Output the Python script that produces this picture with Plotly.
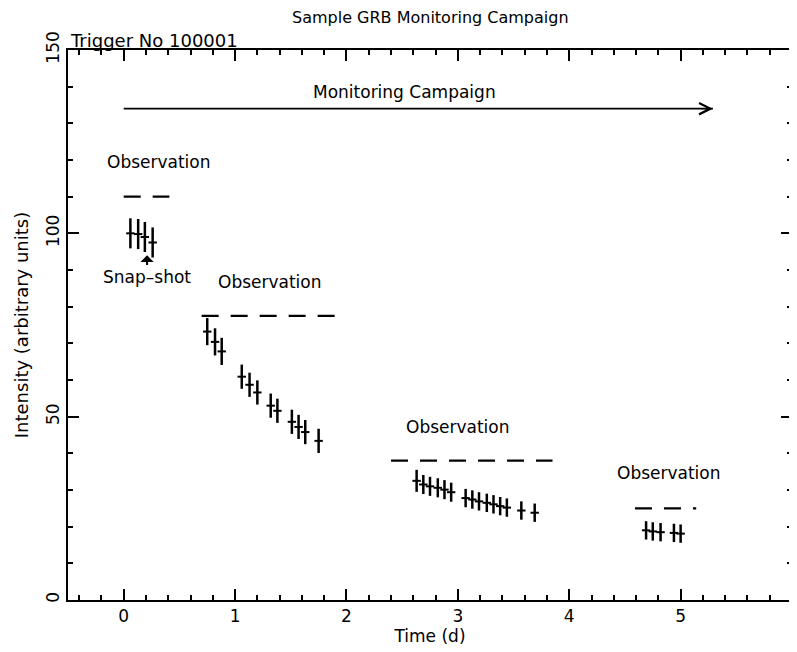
import plotly.graph_objects as go

# ---- data ----
t1 = [0.06, 0.13, 0.19, 0.26]
y1 = [100.0, 99.8, 99.0, 97.5]
e1 = [4.1, 4.1, 4.1, 4.1]

t2 = [0.75, 0.82, 0.88, 1.06, 1.13, 1.20, 1.32, 1.38, 1.51, 1.57, 1.63, 1.75]
y2 = [73.2, 70.4, 67.8, 60.9, 58.7, 56.6, 53.0, 51.6, 48.6, 47.2, 45.8, 43.4]
e2 = [3.7, 3.7, 3.7, 3.3, 3.3, 3.3, 3.3, 3.3, 3.3, 3.3, 3.3, 3.3]

t3 = [2.63, 2.69, 2.75, 2.82, 2.88, 2.94, 3.07, 3.13, 3.19, 3.26, 3.32, 3.38, 3.44, 3.57, 3.69]
y3 = [32.5, 31.5, 31.0, 30.6, 30.1, 29.4, 27.8, 27.4, 26.9, 26.5, 26.1, 25.6, 25.2, 24.4, 23.8]
e3 = [3.0, 2.6, 2.6, 2.6, 2.6, 2.6, 2.5, 2.5, 2.5, 2.5, 2.5, 2.5, 2.5, 2.5, 2.5]

t4 = [4.69, 4.75, 4.82, 4.94, 5.00]
y4 = [19.0, 18.7, 18.5, 18.3, 18.1]
e4 = [2.5, 2.5, 2.5, 2.5, 2.5]

# observation windows: (start, end, level)
obs_start = [0.0, 0.70, 2.40, 4.59]
obs_end = [0.41, 1.90, 3.85, 5.14]
obs_level = [110, 77.5, 38, 25]
obs_label_x = [0.32, 1.31, 3.0, 4.90]
obs_label_y = [119.5, 86.8, 47.3, 34.7]

campaign_start, campaign_end, campaign_level = 0.0, 5.29, 134
campaign_label_x, campaign_label_y = 2.52, 138.6

x_ticks = [0, 1, 2, 3, 4, 5, 6]
y_ticks = [0, 50, 100, 150]
x_minor_ticks = [round(-0.4 + 0.2 * i, 1) for i in range(33)]
y_minor_ticks = [10 * i for i in range(16)]

FONT = "DejaVu Sans"
FS = 17
fig = go.Figure()

for tt, yy, ee in [(t1, y1, e1), (t2, y2, e2), (t3, y3, e3), (t4, y4, e4)]:
    fig.add_trace(go.Scatter(
        x=tt, y=yy, mode="markers",
        marker=dict(symbol="line-ew", size=6, color="black",
                    line=dict(color="black", width=2)),
        error_y=dict(type="data", array=ee, visible=True, width=0,
                     thickness=2.5, color="black"),
        showlegend=False, hoverinfo="skip"))

for s, e, lv in zip(obs_start, obs_end, obs_level):
    fig.add_trace(go.Scatter(
        x=[s, e], y=[lv, lv], mode="lines",
        line=dict(color="black", width=2.2, dash="17px,12px"),
        showlegend=False, hoverinfo="skip"))

fig.add_trace(go.Scatter(
    x=[campaign_start, campaign_end], y=[campaign_level, campaign_level],
    mode="lines", line=dict(color="black", width=1.6),
    showlegend=False, hoverinfo="skip"))

# invisible trace to activate the minor-tick overlay axes
fig.add_trace(go.Scatter(x=[None], y=[None], xaxis="x2", yaxis="y2",
                         showlegend=False, hoverinfo="skip"))

ann = []
ann.append(dict(x=campaign_end, y=campaign_level, ax=campaign_end - 0.12,
                ay=campaign_level, xref="x", yref="y", axref="x", ayref="y",
                text="", showarrow=True, arrowhead=5, arrowsize=1.6,
                arrowwidth=1.4, arrowcolor="black"))
ann.append(dict(x=campaign_label_x, y=campaign_label_y, xref="x", yref="y",
                text="Monitoring Campaign", showarrow=False,
                font=dict(family=FONT, size=FS, color="black")))
for lx, ly in zip(obs_label_x, obs_label_y):
    ann.append(dict(x=lx, y=ly, xref="x", yref="y", text="Observation",
                    showarrow=False, font=dict(family=FONT, size=FS, color="black")))
ann.append(dict(x=0.21, y=94.0, xref="x", yref="y", ax=0.21, ay=88.2,
                axref="x", ayref="y", text="Snap\u2013shot", showarrow=True,
                arrowhead=1, arrowsize=1.1, arrowwidth=2, arrowcolor="black",
                font=dict(family=FONT, size=FS, color="black")))
ann.append(dict(x=0.5, y=1, xref="paper", yref="paper", yshift=33,
                text="Sample GRB Monitoring Campaign", showarrow=False,
                xanchor="center", yanchor="middle",
                font=dict(family=FONT, size=16, color="black")))
ann.append(dict(x=0, y=1, xref="paper", yref="paper", yshift=10,
                text="Trigger No 100001", showarrow=False,
                xanchor="left", yanchor="middle",
                font=dict(family=FONT, size=18, color="black")))

axis_common = dict(showgrid=False, zeroline=False, showline=True,
                   linecolor="black", linewidth=2, mirror="allticks",
                   ticks="inside", ticklen=11, tickwidth=1.5, tickcolor="black",
                   tickfont=dict(family=FONT, size=FS, color="black"))
minor_axis = dict(showticklabels=False, showgrid=False, zeroline=False,
                  showline=False, mirror="ticks", ticks="inside", ticklen=5,
                  tickwidth=1.5, tickcolor="black")

fig.update_layout(
    width=789, height=644,
    margin=dict(l=60, r=3, t=42, b=52),
    paper_bgcolor="white", plot_bgcolor="white",
    annotations=ann,
    xaxis=dict(range=[-0.5, 6], tickvals=x_ticks,
               title=dict(text="Time (d)", standoff=1,
                          font=dict(family=FONT, size=FS, color="black")),
               **axis_common),
    yaxis=dict(range=[0, 150], tickvals=y_ticks, tickangle=-90,
               title=dict(text="Intensity (arbitrary units)", standoff=10,
                          font=dict(family=FONT, size=18, color="black")),
               **axis_common),
    xaxis2=dict(range=[-0.5, 6], overlaying="x", side="bottom", anchor="y",
                tickvals=x_minor_ticks, **minor_axis),
    yaxis2=dict(range=[0, 150], overlaying="y", side="left", anchor="x",
                tickvals=y_minor_ticks, **minor_axis),
)

fig.write_html("out.html")
